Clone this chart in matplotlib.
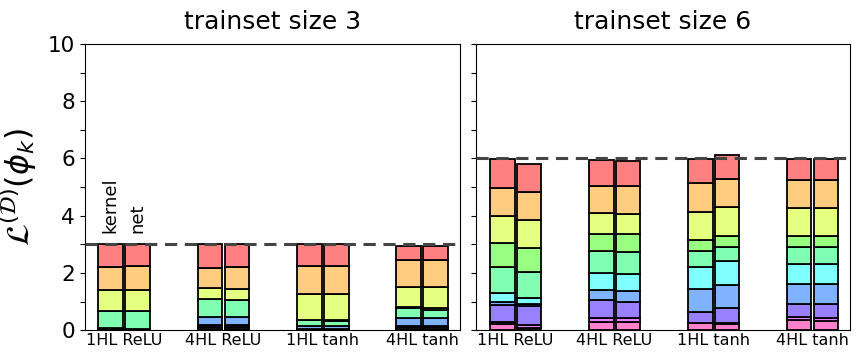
import numpy as np
import matplotlib
matplotlib.use("Agg")
import matplotlib.pyplot as plt
from matplotlib.colors import hsv_to_rgb

models = ["1HL ReLU", "4HL ReLU", "1HL tanh", "4HL tanh"]
titles = ["trainset size 3", "trainset size 6"]
targets = [3, 6]

# component order: red, orange, yellow, green, aqua, cyan, blue, purple, violet, pink
kernel_3 = [
    [0.81, 0.80, 0.71, 0.00, 0.62, 0.00, 0.02, 0.02, 0.00, 0.02],
    [0.84, 0.68, 0.41, 0.00, 0.61, 0.00, 0.29, 0.05, 0.07, 0.05],
    [0.77, 0.98, 0.90, 0.00, 0.21, 0.00, 0.11, 0.01, 0.00, 0.02],
    [0.50, 0.93, 0.70, 0.04, 0.35, 0.00, 0.28, 0.04, 0.06, 0.05],
]
net_3 = [
    [0.76, 0.85, 0.72, 0.00, 0.62, 0.00, 0.02, 0.02, 0.00, 0.01],
    [0.81, 0.76, 0.37, 0.00, 0.59, 0.00, 0.30, 0.05, 0.07, 0.05],
    [0.77, 0.98, 0.88, 0.04, 0.18, 0.00, 0.11, 0.02, 0.00, 0.02],
    [0.49, 0.96, 0.73, 0.04, 0.31, 0.00, 0.27, 0.04, 0.05, 0.05],
]
kernel_6 = [
    [0.99, 0.98, 0.95, 0.84, 0.91, 0.33, 0.10, 0.57, 0.09, 0.21],
    [0.91, 0.95, 0.73, 0.59, 0.78, 0.59, 0.34, 0.61, 0.14, 0.30],
    [0.84, 1.01, 0.98, 0.38, 0.55, 0.79, 0.80, 0.36, 0.00, 0.26],
    [0.74, 0.97, 0.96, 0.41, 0.57, 0.72, 0.67, 0.48, 0.09, 0.36],
]
net_6 = [
    [0.98, 0.97, 0.98, 0.84, 0.91, 0.20, 0.08, 0.66, 0.11, 0.06],
    [0.89, 0.97, 0.71, 0.62, 0.78, 0.60, 0.37, 0.57, 0.14, 0.27],
    [0.86, 0.98, 1.01, 0.39, 0.49, 0.84, 0.80, 0.52, 0.04, 0.20],
    [0.74, 0.97, 0.96, 0.41, 0.57, 0.72, 0.70, 0.49, 0.08, 0.33],
]

colors = [hsv_to_rgb((h, 0.5, 1.0)) for h in np.arange(10) / 10]


def stack(ax, x, values):
    bottom = 0
    for i in reversed(range(len(values))):
        ax.bar(x, values[i], bottom=bottom, width=0.25, color=colors[i],
               edgecolor="black", linewidth=1.3)
        bottom += values[i]


fig = plt.figure(figsize=(8.64, 3.6), dpi=100)
axes = [fig.add_axes([0.098, 0.083, 0.434, 0.795]),
        fig.add_axes([0.551, 0.083, 0.433, 0.795])]

data = [(kernel_3, net_3), (kernel_6, net_6)]
for ax, (kern, net), title, target in zip(axes, data, titles, targets):
    xs = np.arange(len(models))
    for j in range(len(models)):
        stack(ax, xs[j] - 0.136, kern[j])
        stack(ax, xs[j] + 0.136, net[j])
    ax.axhline(target, color="#444444", linestyle="--", linewidth=2.2,
               dashes=(4, 2.5), zorder=5)
    ax.set_xlim(-0.4, 3.38)
    ax.set_ylim(0, 10)
    ax.set_xticks(xs)
    ax.set_xticklabels(models, fontsize=11.5)
    ax.tick_params(axis="x", length=0, pad=2)
    ax.set_yticks(range(11))
    ax.set_title(title, fontsize=18, pad=11)

axes[0].set_yticklabels([str(v) if v % 2 == 0 else "" for v in range(11)],
                        fontsize=15.5)
axes[1].set_yticklabels([])
axes[0].set_ylabel(r"$\mathcal{L}^{(\mathcal{D})}(\phi_k)$", fontsize=23,
                   labelpad=6)

axes[0].text(-0.136, 3.4, "kernel", rotation=90, ha="center", va="bottom",
             fontsize=13)
axes[0].text(0.136, 3.4, "net", rotation=90, ha="center", va="bottom",
             fontsize=13)

plt.savefig("out.png", dpi=100)
